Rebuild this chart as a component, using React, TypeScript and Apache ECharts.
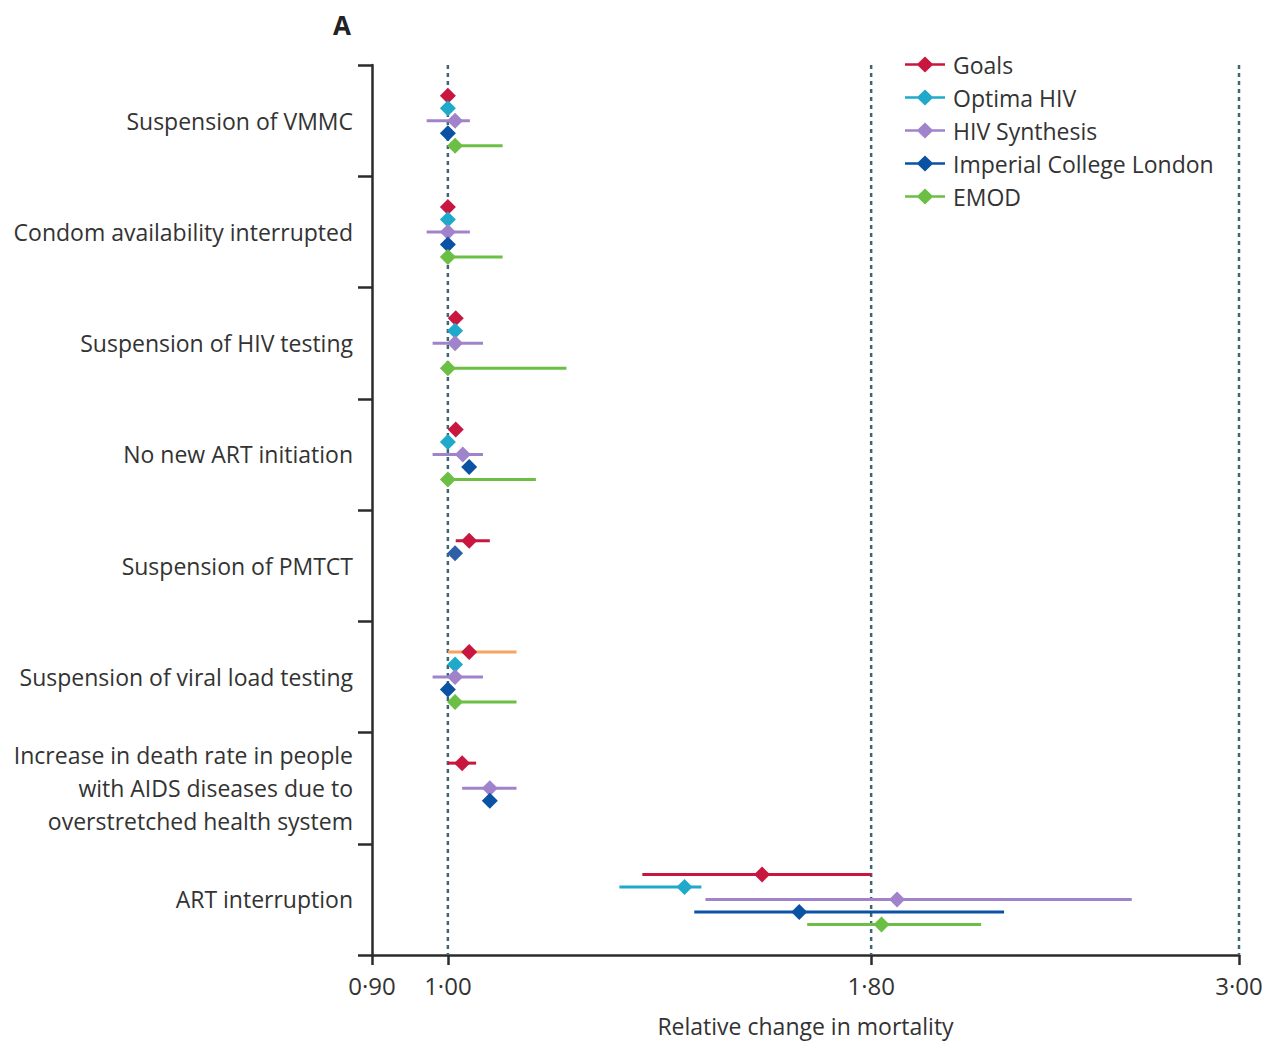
import React, { useEffect, useRef } from "react";
import * as echarts from "echarts";

// ---------- data ----------
const categories = [
  "Suspension of VMMC",
  "Condom availability interrupted",
  "Suspension of HIV testing",
  "No new ART initiation",
  "Suspension of PMTCT",
  "Suspension of viral load testing",
  "Increase in death rate in people\nwith AIDS diseases due to\noverstretched health system",
  "ART interruption",
];

const xTickValues = [0.9, 1.0, 1.8, 3.0];
const referenceLines = [1.0, 1.8, 3.0];
const xAxisMin = 0.9;
const xAxisMax = 3.0;

const modelNames = ["Goals", "Optima HIV", "HIV Synthesis", "Imperial College London", "EMOD"];

const goalsPoint = [1.0, 1.0, 1.011, 1.011, 1.03, 1.03, 1.02, 1.547];
const goalsLow = [null, null, null, null, 1.011, 1.0, 1.0, 1.31];
const goalsHigh = [null, null, null, null, 1.06, 1.1, 1.04, 1.8];

const optimaPoint = [1.0, 1.0, 1.01, 1.0, 1.01, 1.01, null, 1.389];
const optimaLow = [null, null, null, null, null, null, null, 1.269];
const optimaHigh = [null, null, null, null, null, null, null, 1.422];

const synthesisPoint = [1.01, 1.0, 1.01, 1.021, null, 1.01, 1.06, 1.866];
const synthesisLow = [0.971, 0.971, 0.979, 0.979, null, 0.979, 1.02, 1.43];
const synthesisHigh = [1.031, 1.031, 1.05, 1.05, null, 1.05, 1.1, 2.585];

const imperialPoint = [1.0, 1.0, null, 1.03, null, 1.0, 1.06, 1.629];
const imperialLow = [null, null, null, null, null, null, null, 1.408];
const imperialHigh = [null, null, null, null, null, null, null, 2.165];

const emodPoint = [1.01, 1.0, 1.0, 1.0, null, 1.01, null, 1.826];
const emodLow = [1.01, 1.0, 1.0, 1.0, null, 1.01, null, 1.647];
const emodHigh = [1.079, 1.079, 1.179, 1.13, null, 1.1, null, 2.097];

// ---------- styles ----------
const modelColors = ["#c8163f", "#1fa9ca", "#a083cb", "#0b52a4", "#6cbf45"];
const pointColorOverride: Record<string, string> = { "1|4": "#2e60a8" };
const barColorOverride: Record<string, string> = { "0|5": "#f5a462" };
const axisColor = "#2b2b2b";
const textColor = "#333333";
const refLineColor = "#3d6774";
const FONT = "Open Sans";
const FS = 23;

const modelSeries = [
  { point: goalsPoint, low: goalsLow, high: goalsHigh },
  { point: optimaPoint, low: optimaLow, high: optimaHigh },
  { point: synthesisPoint, low: synthesisLow, high: synthesisHigh },
  { point: imperialPoint, low: imperialLow, high: imperialHigh },
  { point: emodPoint, low: emodLow, high: emodHigh },
];

const lg = (v: number | null) => (v == null ? null : Math.log10(v));
const fmt = (v: number) => Math.pow(10, v).toFixed(2).replace(".", "\u00b7");

const legendIcon =
  "path://M0,6.8 H13 L20,0 L27,6.8 H40 V9.2 H27 L20,16 L13,9.2 H0 Z";

export default function App() {
  const ref = useRef<HTMLDivElement>(null);

  useEffect(() => {
    if (!ref.current) return;
    const chart = echarts.init(ref.current, undefined, { renderer: "svg" });

    const series: any[] = [
      {
        type: "custom",
        name: "reference",
        silent: true,
        clip: false,
        encode: { x: 0 },
        data: referenceLines.map((v) => [Math.log10(v)]),
        renderItem: (params: any, api: any) => {
          const cs = params.coordSys;
          const x = api.coord([api.value(0), 0])[0];
          return {
            type: "line",
            shape: { x1: x, y1: cs.y, x2: x, y2: cs.y + cs.height },
            style: { stroke: refLineColor, lineWidth: 2.5, lineDash: [4, 4] },
          };
        },
      },
    ];

    modelSeries.forEach((m, slot) => {
      const data = categories.map((_, i) => [lg(m.point[i]), lg(m.low[i]), lg(m.high[i]), i]);
      series.push({
        type: "custom",
        name: modelNames[slot],
        itemStyle: { color: modelColors[slot] },
        encode: { x: [0, 1, 2], y: 3 },
        clip: false,
        data,
        renderItem: (params: any, api: any) => {
          const v = api.value(0);
          const cat = params.dataIndex;
          if (!isFinite(v)) return { type: "group", children: [] };
          const lo = api.value(1);
          const hi = api.value(2);
          const bandH = api.size([0, 1])[1];
          const dy = (slot - 2) * bandH * (12.5 / 111.25);
          const p = api.coord([v, cat]);
          const y = p[1] + dy;
          const key = slot + "|" + cat;
          const color = pointColorOverride[key] || modelColors[slot];
          const barColor = barColorOverride[key] || modelColors[slot];
          const children: any[] = [];
          if (isFinite(lo) && isFinite(hi)) {
            const a = api.coord([lo, cat])[0];
            const b = api.coord([hi, cat])[0];
            children.push({
              type: "line",
              shape: { x1: a, y1: y, x2: b, y2: y },
              style: { stroke: barColor, lineWidth: 3 },
            });
          }
          const s = 8;
          children.push({
            type: "polygon",
            shape: {
              points: [
                [p[0], y - s],
                [p[0] + s, y],
                [p[0], y + s],
                [p[0] - s, y],
              ],
            },
            style: { fill: color },
          });
          return { type: "group", children };
        },
      });
    });

    const ticks = xTickValues.map((v) => Math.log10(v));

    chart.setOption({
      animation: false,
      title: {
        text: "A",
        left: 333,
        top: 12,
        padding: 0,
        textStyle: { fontSize: 26, fontWeight: "bold", color: "#222", fontFamily: FONT },
      },
      legend: {
        orient: "vertical",
        left: 905,
        top: 53,
        padding: 0,
        itemWidth: 40,
        itemHeight: 16,
        itemGap: 10,
        selectedMode: false,
        textStyle: { fontSize: FS, fontFamily: FONT, color: textColor, lineHeight: 22, padding: [0, 0, 0, 3] },
        data: modelNames.map((n) => ({ name: n, icon: legendIcon })),
      },
      grid: { left: 372, right: 27, top: 65, bottom: 88, containLabel: false },
      xAxis: {
        type: "value",
        min: Math.log10(xAxisMin),
        max: Math.log10(xAxisMax),
        name: "Relative change in mortality",
        nameLocation: "middle",
        nameGap: 59,
        nameTextStyle: { fontSize: FS, fontFamily: FONT, color: textColor },
        axisLine: { show: true, onZero: false, lineStyle: { color: axisColor, width: 2.5 } },
        axisTick: { show: true, length: 10, customValues: ticks, lineStyle: { color: axisColor, width: 2.5 } },
        axisLabel: {
          customValues: ticks,
          formatter: (v: number) => fmt(v),
          fontSize: 24,
          fontFamily: FONT,
          color: textColor,
          margin: 18,
        },
        splitLine: { show: false },
      },
      yAxis: {
        type: "category",
        data: categories,
        inverse: true,
        boundaryGap: true,
        axisLine: { show: true, onZero: false, lineStyle: { color: axisColor, width: 2.5 } },
        axisTick: { show: true, length: 14, interval: 0, lineStyle: { color: axisColor, width: 2.5 } },
        axisLabel: {
          interval: 0,
          fontSize: FS,
          fontFamily: FONT,
          color: textColor,
          lineHeight: 33,
          margin: 19,
          align: "right",
          padding: [0, 0, 3, 0],
        },
        splitLine: { show: false },
      },
      series,
    });

    return () => chart.dispose();
  }, []);

  return (
    <div
      ref={ref}
      style={{ position: "absolute", left: 0, top: 0, width: 1266, height: 1043, background: "#fff" }}
    />
  );
}
